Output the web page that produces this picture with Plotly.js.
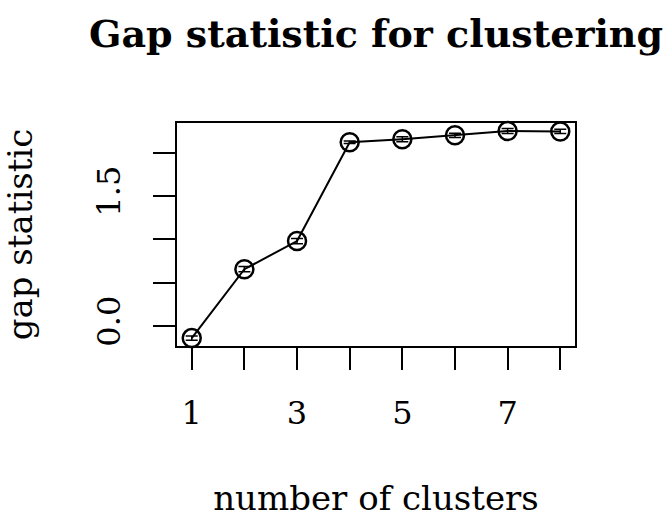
<!DOCTYPE html>
<html>
<head>
<meta charset="utf-8">
<script src="https://cdn.plot.ly/plotly-3.0.1.min.js"></script>
<style>html,body{margin:0;padding:0;background:#fff;}#chart{width:666px;height:526px;}</style>
</head>
<body>
<div id="chart"></div>
<script>
var clusters = [1, 2, 3, 4, 5, 6, 7, 8];
var gapValues = [-0.14, 0.655, 0.98, 2.12, 2.155, 2.2, 2.25, 2.245];
var gapSE = [0.025, 0.03, 0.03, 0.015, 0.029, 0.025, 0.028, 0.025];
var xTickVals = [1, 2, 3, 4, 5, 6, 7, 8];
var xTickText = ["1", "", "3", "", "5", "", "7", ""];
var yTickVals = [0, 0.5, 1, 1.5, 2];
var yTickText = ["0.0", "", "", "1.5", ""];

var FONT = "DejaVu Serif";

var trace = {
  x: clusters,
  y: gapValues,
  type: "scatter",
  mode: "lines+markers",
  line: {color: "#000", width: 2},
  marker: {symbol: "circle-open", size: 18, color: "#000", line: {color: "#000", width: 2.5}},
  error_y: {type: "data", array: gapSE, visible: true, color: "#000", thickness: 1.5, width: 6},
  cliponaxis: false,
  hoverinfo: "x+y"
};

var layout = {
  width: 666,
  height: 526,
  paper_bgcolor: "#fff",
  plot_bgcolor: "#fff",
  margin: {l: 177, r: 91, t: 123, b: 180},
  showlegend: false,
  font: {family: FONT, color: "#000", size: 32},
  title: {
    text: "<b>Gap statistic for clustering</b>",
    font: {family: FONT, size: 38, color: "#000"},
    x: 0.5, xref: "paper",
    y: 1 - 34 / 526, yref: "container", yanchor: "middle"
  },
  xaxis: {
    range: [0.72, 8.28],
    tickvals: xTickVals,
    ticktext: xTickText,
    ticks: "outside",
    ticklen: 22,
    tickwidth: 2,
    tickcolor: "#000",
    ticklabelstandoff: 16,
    showline: true,
    linewidth: 2,
    linecolor: "#000",
    mirror: true,
    showgrid: false,
    zeroline: false,
    tickfont: {family: FONT, size: 32, color: "#000"},
    title: {text: "number of clusters", font: {family: FONT, size: 34, color: "#000"}, standoff: 55}
  },
  yaxis: {
    range: [-0.231, 2.342],
    tickvals: yTickVals,
    ticktext: yTickText,
    tickangle: -90,
    ticks: "outside",
    ticklen: 22,
    tickwidth: 2,
    tickcolor: "#000",
    ticklabelstandoff: 20,
    showline: true,
    linewidth: 2,
    linecolor: "#000",
    mirror: true,
    showgrid: false,
    zeroline: false,
    tickfont: {family: FONT, size: 32, color: "#000"},
    title: {text: "gap statistic", font: {family: FONT, size: 34, color: "#000"}, standoff: 48}
  }
};

Plotly.newPlot("chart", [trace], layout, {staticPlot: true, displayModeBar: false});
</script>
</body>
</html>
